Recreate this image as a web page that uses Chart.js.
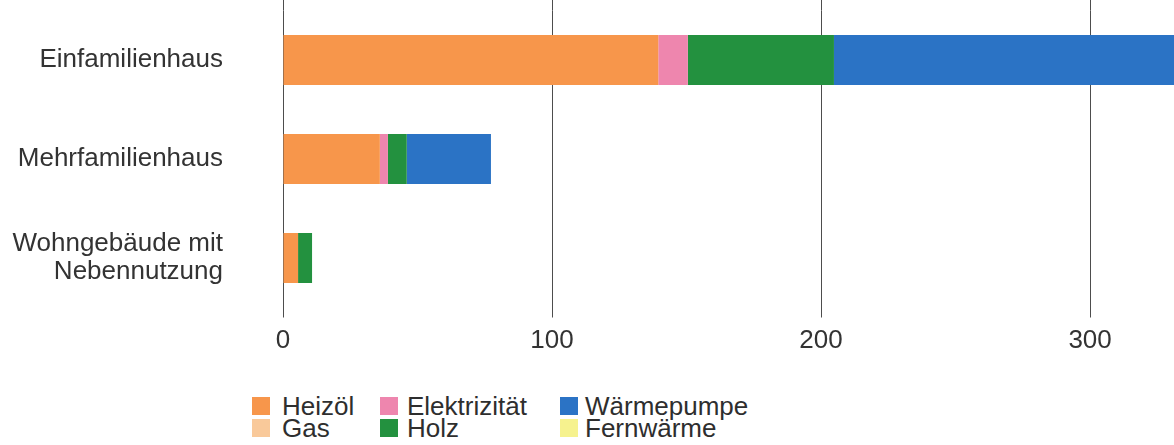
<!DOCTYPE html>
<html><head><meta charset="utf-8">
<script src="https://cdn.jsdelivr.net/npm/chart.js@4/dist/chart.umd.min.js"></script>
<style>
html,body{margin:0;padding:0;background:#fff;}
#wrap{position:relative;width:1174px;height:445px;overflow:hidden;font-family:"Liberation Sans",Arial,sans-serif;background:#fff;}
#cvbox{position:absolute;left:0;top:0;width:1174px;height:370px;}
.lg{position:absolute;font-size:26px;line-height:22px;color:#2e2e2e;white-space:nowrap;}
.sw{position:absolute;width:18px;height:18px;}
</style></head><body>
<div id="wrap"><div id="cvbox"><canvas id="cv" width="1174" height="370"></canvas></div><div id="legend"></div></div>
<script>
// ---- data ----
const categories = ['Einfamilienhaus', 'Mehrfamilienhaus', ['Wohngebäude mit', 'Nebennutzung']];
const seriesNames = ['Heizöl', 'Gas', 'Elektrizität', 'Holz', 'Wärmepumpe', 'Fernwärme'];
const heizoel = [139.5, 36, 5.6];
const gas = [0, 0, 0];
const elektrizitaet = [11, 3, 0];
const holz = [54.3, 7, 5.2];
const waermepumpe = [150, 31.3, 0];
const fernwaerme = [0, 0, 0];
const xTicks = [0, 100, 200, 300];
const seriesColors = ['#F7964B', '#F9C99A', '#EE86AE', '#23913F', '#2B73C5', '#F6F28E'];

const seriesValues = [heizoel, gas, elektrizitaet, holz, waermepumpe, fernwaerme];
const FONT = '"Liberation Sans", Arial, sans-serif';
const GRID = '#4d4d4d';

// extend vertical grid lines above the plot area to the top edge
const gridExtend = {
  id: 'gridExtend',
  beforeDatasetsDraw(chart) {
    const x = chart.scales.x, ctx = chart.ctx;
    ctx.save();
    ctx.strokeStyle = GRID;
    ctx.lineWidth = 1;
    x.ticks.forEach(t => {
      const px = Math.round(x.getPixelForValue(t.value)) + 0.5;
      ctx.beginPath();
      ctx.moveTo(px, 0);
      ctx.lineTo(px, chart.chartArea.top);
      ctx.stroke();
    });
    ctx.restore();
  }
};

new Chart(document.getElementById('cv'), {
  type: 'bar',
  data: {
    labels: categories,
    datasets: seriesNames.map((n, i) => ({
      label: n,
      data: seriesValues[i],
      backgroundColor: seriesColors[i],
      borderWidth: 0,
      categoryPercentage: 0.505,
      barPercentage: 1
    }))
  },
  options: {
    indexAxis: 'y',
    responsive: false,
    animation: false,
    layout: { padding: { top: 10.5, bottom: 14.5, left: 0, right: 0 } },
    plugins: { legend: { display: false }, tooltip: { enabled: false } },
    scales: {
      x: {
        type: 'linear', stacked: true, min: 0, max: 331.2,
        afterBuildTicks: s => { s.ticks = xTicks.map(v => ({ value: v })); },
        afterFit: s => { s.height = 48; s.paddingLeft = 0; s.paddingRight = 0; },
        grid: { color: GRID, lineWidth: 1, tickLength: 10, drawTicks: true },
        border: { display: false },
        ticks: { font: { family: FONT, size: 26 }, color: '#333', padding: 8, maxRotation: 0 }
      },
      y: {
        type: 'category', stacked: true,
        afterFit: s => { s.width = 283; s.paddingTop = 0; s.paddingBottom = 0; },
        grid: { display: false, drawTicks: false },
        border: { display: false },
        ticks: { font: { family: FONT, size: 26, lineHeight: 1.08 }, color: '#333', padding: 60 }
      }
    }
  },
  plugins: [gridExtend]
});

// ---- legend (3 columns x 2 rows, column-major) ----
const legendSwatchX = [252, 380, 560];
const legendTextX = [282, 407, 585];
const legendSwatchY = [397, 419];
const legendTextY = [395, 417];
const lg = document.getElementById('legend');
seriesNames.forEach((n, i) => {
  const col = Math.floor(i / 2), row = i % 2;
  const sw = document.createElement('div');
  sw.className = 'sw';
  sw.style.left = legendSwatchX[col] + 'px';
  sw.style.top = legendSwatchY[row] + 'px';
  sw.style.background = seriesColors[i];
  lg.appendChild(sw);
  const t = document.createElement('div');
  t.className = 'lg';
  t.style.left = legendTextX[col] + 'px';
  t.style.top = legendTextY[row] + 'px';
  t.textContent = n;
  lg.appendChild(t);
});
</script>
</body></html>
